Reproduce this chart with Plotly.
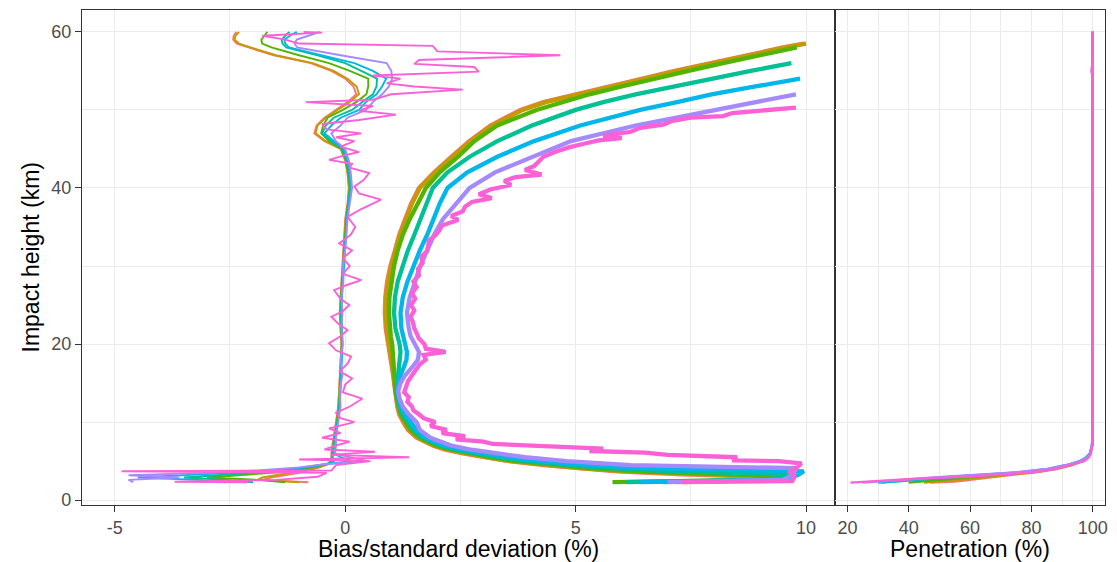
import plotly.graph_objects as go

# ---------------- data ----------------
SERIES = ["Group 1", "Group 2", "Group 3", "Group 4", "Group 5", "Group 6", "Group 7"]
COLORS = ["#F8766D", "#C49A00", "#53B400", "#00C094", "#00B6EB", "#A58AFF", "#FB61D7"]

# Bias (%) on a common height grid (km) for groups 1-6
H_BIAS = [2.3, 2.6, 2.9, 3.2, 3.5, 3.8, 4.2, 4.6, 5.0, 5.5, 6.0, 7, 8, 9, 10, 12, 14, 16, 18, 20,
          22, 24, 26, 28, 30, 32, 34, 36, 38, 40, 42, 43.5, 45, 46, 47, 48, 49, 50, 51, 52,
          53, 54, 55, 56, 57, 58, 58.5, 59, 59.5, 60]
BIAS_1 = [-0.8, -1.8, -1.6, -1.3, -1.0, -0.8, -0.55, -0.38, -0.32, -0.3, -0.3, -0.28, -0.25, -0.22, -0.2,
          -0.15, -0.13, -0.12, -0.1, -0.08, -0.1, -0.12, -0.1, -0.08, -0.06, -0.04, -0.02, 0.0, 0.05, 0.08,
          0.05, 0.0, -0.1, -0.45, -0.67, -0.62, -0.45, -0.2, 0.05, 0.24, 0.18, 0.0, -0.3, -0.75, -1.55,
          -2.1, -2.35, -2.43, -2.42, -2.36]
BIAS_2 = [-1.0, -1.9, -1.8, -1.5, -1.15, -0.9, -0.6, -0.38, -0.31, -0.29, -0.29, -0.27, -0.24, -0.21, -0.19,
          -0.15, -0.13, -0.11, -0.1, -0.08, -0.1, -0.11, -0.1, -0.08, -0.06, -0.04, -0.02, 0.01, 0.06, 0.08,
          0.05, 0.01, -0.09, -0.42, -0.64, -0.6, -0.42, -0.15, 0.1, 0.3, 0.25, 0.05, -0.25, -0.7, -1.5,
          -2.05, -2.3, -2.4, -2.38, -2.3]
BIAS_3 = [-1.3, -1.9, -3.0, -2.2, -1.6, -1.1, -0.7, -0.4, -0.3, -0.28, -0.28, -0.26, -0.24, -0.2, -0.18,
          -0.14, -0.12, -0.1, -0.09, -0.07, -0.09, -0.1, -0.09, -0.07, -0.05, -0.03, -0.01, 0.02, 0.06, 0.1,
          0.06, 0.02, -0.08, -0.35, -0.52, -0.48, -0.38, -0.05, 0.24, 0.46, 0.5, 0.5, 0.1, -0.35, -1.0,
          -1.6, -1.8, -1.82, -1.75, -1.69]
BIAS_4 = [-2.0, -2.6, -3.5, -2.7, -2.0, -1.3, -0.8, -0.42, -0.25, -0.27, -0.27, -0.25, -0.22, -0.2, -0.17,
          -0.13, -0.11, -0.1, -0.08, -0.07, -0.08, -0.09, -0.08, -0.06, -0.04, -0.02, 0.0, 0.03, 0.07, 0.11,
          0.08, 0.03, -0.06, -0.3, -0.5, -0.42, -0.25, 0.15, 0.37, 0.6, 0.68, 0.69, 0.35, 0.0, -0.6,
          -1.28, -1.36, -1.38, -1.3, -1.21]
BIAS_5 = [-2.6, -3.2, -4.5, -3.4, -2.5, -1.6, -0.9, -0.45, 0.15, -0.1, -0.25, -0.24, -0.22, -0.2, -0.16,
          -0.12, -0.1, -0.09, -0.08, -0.06, -0.07, -0.08, -0.07, -0.05, -0.03, -0.01, 0.01, 0.04, 0.08, 0.12,
          0.1, 0.05, -0.04, -0.25, -0.45, -0.3, -0.1, 0.3, 0.45, 0.68, 0.8, 0.89, 0.6, 0.2, -0.5,
          -1.22, -1.3, -1.32, -1.2, -1.05]
BIAS_6 = [-4.6, -4.7, -3.6, -4.7, -3.0, -1.9, -1.0, -0.45, 0.5, 0.1, -0.22, -0.2, -0.2, -0.18, -0.15,
          -0.1, -0.12, -0.06, -0.1, -0.05, -0.08, -0.06, -0.08, -0.04, -0.05, 0.0, 0.02, 0.05, 0.1, 0.15,
          0.12, 0.08, 0.0, -0.2, -0.3, -0.1, 0.05, 0.45, 0.6, 0.8, 0.95, 1.02, 1.0, 0.9, -0.1,
          -1.04, -1.1, -1.05, -0.8, -0.55]
# Group 7 bias has its own (noisier) height sampling
H_BIAS_7 = [2.3, 2.35, 2.6, 3.0, 3.5, 3.7, 3.8, 4.5, 5.0, 5.2, 5.5, 5.8, 6.2, 6.5, 7.0, 7.5, 8.0, 8.6, 9.2, 10.0,
            10.5, 11.2, 12.0, 13.0, 13.8, 14.8, 15.6, 16.5, 17.5, 18.4, 19.2, 20.1, 21.0, 21.8, 22.6, 23.5,
            24.2, 25.0, 25.8, 26.9, 27.6, 28.2, 29.0, 30.0, 31.0, 32.0, 32.9, 34.0, 35.0, 36.3, 37.3, 38.5,
            39.3, 40.2, 41.0, 41.9, 42.6, 43.1, 43.6, 44.2, 44.6, 45.3, 46.0, 46.5, 47.0, 47.5, 48.2, 48.7,
            49.4, 49.9, 50.5, 51.0, 51.3, 52.0, 52.6, 53.0, 53.4, 54.0, 54.4, 54.9, 55.5, 55.9, 56.4, 57.0,
            57.5, 58.2, 58.5, 59.0, 59.5, 59.9, 60.0]
BIAS_7 = [-2.1, -3.7, -1.5, -0.6, -0.4, -4.85, -0.3, -0.2, 0.55, -1.0, 1.39, -0.3, 0.65, -0.45, -0.2, 0.1,
          -0.5, -0.1, -0.35, 0.2, -0.1, -0.2, 0.1, 0.37, -0.05, 0.0, 0.15, -0.12, 0.05, 0.13, -0.2, -0.35,
          -0.1, 0.05, -0.15, -0.3, -0.05, 0.09, -0.1, -0.24, 0.05, 0.35, -0.05, 0.1, -0.05, 0.15, -0.13,
          0.12, 0.22, 0.05, 0.35, 0.78, 0.3, 0.2, 0.4, 0.52, 0.1, 0.15, -0.35, 0.0, 0.3, -0.1, 0.2, -0.2,
          0.35, -0.4, -0.5, 0.3, 1.1, 0.3, 0.6, -0.85, 0.6, 1.0, 2.55, 1.5, 0.9, 1.2, 0.6, 2.9, 2.8, 1.5,
          1.6, 4.67, 2.0, 1.9, -1.0, -1.3, -1.8, -0.5, -0.9]

# Standard deviation (%) on a common height grid for groups 1-6
H_STD = [2.3, 2.45, 2.6, 2.9, 3.1, 3.3, 3.7, 4.1, 4.5, 5.0, 5.5, 6.0, 6.5, 7.0, 8.0, 9.0,
         10, 11, 12, 13, 14, 15, 16, 17, 18, 19, 20, 21, 22,
         24, 26, 28, 30, 32, 34, 36, 38, 40, 42, 44, 46, 48, 50,
         51, 52, 53, 54, 55, 56, 57, 58, 58.5]
STD_1 = [7.2, 8.3, 9.2, 9.6, 8.2, 7.3, 5.9, 5.0, 4.3, 3.55, 3.0, 2.55, 2.15, 1.9, 1.55, 1.36,
         1.26, 1.17, 1.13, 1.10, 1.07, 1.06, 1.04, 1.01, 0.98, 0.96, 0.93, 0.90, 0.88,
         0.86, 0.87, 0.91, 0.98, 1.08, 1.17, 1.3, 1.43, 1.6, 1.93, 2.3, 2.69, 3.15, 3.8,
         4.3, 5.05, 5.75, 6.45, 7.15, 7.9, 8.7, 9.5, 9.95]
STD_2 = [6.9, 8.0, 9.0, 9.7, 8.9, 7.6, 6.1, 5.1, 4.4, 3.6, 3.05, 2.6, 2.2, 1.93, 1.58, 1.38,
         1.28, 1.19, 1.14, 1.11, 1.08, 1.07, 1.05, 1.02, 1.0, 0.97, 0.94, 0.92, 0.9,
         0.88, 0.89, 0.93, 1.0, 1.1, 1.19, 1.32, 1.45, 1.62, 1.95, 2.33, 2.72, 3.18, 3.85,
         4.35, 5.1, 5.8, 6.5, 7.2, 7.95, 8.75, 9.55, 10.0]
STD_3 = [5.8, 7.5, 8.8, 9.5, 9.75, 8.3, 6.4, 5.3, 4.6, 3.75, 3.15, 2.7, 2.28, 1.98, 1.62, 1.42,
         1.31, 1.21, 1.16, 1.12, 1.09, 1.08, 1.07, 1.06, 1.05, 1.04, 1.02, 0.99, 0.97,
         0.95, 0.96, 1.0, 1.06, 1.14, 1.25, 1.4, 1.57, 1.75, 2.05, 2.45, 2.8, 3.3, 4.15,
         4.7, 5.3, 6.0, 6.7, 7.45, 8.2, 9.0, 9.8, None]
STD_4 = [6.1, 7.8, 9.0, 9.5, 9.6, 9.7, 7.1, 5.7, 4.85, 3.95, 3.3, 2.85, 2.38, 2.06, 1.68, 1.48,
         1.36, 1.25, 1.18, 1.14, 1.12, 1.13, 1.15, 1.17, 1.19, 1.2, 1.18, 1.13, 1.09,
         1.06, 1.08, 1.14, 1.24, 1.36, 1.5, 1.63, 1.75, 1.9, 2.22, 2.7, 3.3, 4.05, 5.0,
         5.6, 6.3, 7.1, 7.95, 8.8, 9.68, None, None, None]
STD_5 = [6.4, 8.2, 9.4, 9.7, 9.8, 9.85, 9.95, 6.5, 5.3, 4.25, 3.55, 3.0, 2.5, 2.15, 1.75, 1.55,
         1.42, 1.3, 1.2, 1.16, 1.14, 1.16, 1.2, 1.27, 1.33, 1.34, 1.3, 1.25, 1.22,
         1.2, 1.25, 1.35, 1.48, 1.62, 1.78, 1.92, 2.05, 2.22, 2.65, 3.3, 4.1, 5.1, 6.4,
         7.2, 7.95, 8.9, 9.87, None, None, None, None, None]
STD_6 = [7.0, 8.8, 9.5, 9.6, 9.65, 9.7, 9.75, 9.8, 6.2, 4.8, 3.9, 3.25, 2.7, 2.3, 1.85, 1.62,
         1.55, 1.38, 1.25, 1.18, 1.15, 1.2, 1.3, 1.45, 1.58, 1.6, 1.5, 1.42, 1.38,
         1.34, 1.4, 1.52, 1.63, 1.78, 1.93, 2.12, 2.4, 2.7, 3.25, 4.05, 4.9, 6.3, 8.0,
         8.9, 9.78, None, None, None, None, None, None, None]
H_STD_7 = [2.3, 2.45, 3.0, 3.6, 4.2, 4.7, 5.0, 5.1, 5.5, 5.8, 6.1, 6.3, 6.6, 6.9, 7.2, 7.5, 7.8, 8.2, 8.6,
           9.0, 9.5, 10.0, 10.5, 11.0, 11.5, 12.0, 12.6, 13.2, 13.8, 14.5, 15.2, 16.0, 16.7, 17.4, 18.0,
           18.6, 19.0, 19.4, 20.0, 20.7, 21.4, 22.0, 22.8, 23.5, 24.3, 25.0, 25.8, 26.5, 27.3, 28.0, 28.8,
           29.6, 30.4, 31.2, 31.9, 32.6, 33.3, 33.9, 34.6, 35.2, 35.9, 36.4, 37.0, 37.6, 38.2, 38.7, 39.2,
           39.8, 40.4, 40.9, 41.4, 41.7, 42.3, 42.8, 43.4, 44.0, 44.6, 45.2, 45.7, 46.1, 46.4, 46.7, 47.2,
           47.7, 48.1, 48.6, 49.0, 49.2, 49.6, 50.0, 50.3]
STD_7 = [7.3, 9.7, 9.75, 9.65, 9.8, 9.9, 9.4, 8.4, 8.5, 7.0, 6.5, 5.3, 5.6, 4.2, 3.2, 3.0, 2.4, 2.6, 2.1,
         2.2, 1.85, 1.95, 1.7, 1.6, 1.48, 1.45, 1.35, 1.38, 1.28, 1.32, 1.36, 1.45, 1.55, 1.62, 1.75, 1.7,
         2.18, 1.75, 1.72, 1.6, 1.55, 1.5, 1.47, 1.42, 1.5, 1.43, 1.52, 1.45, 1.55, 1.48, 1.6, 1.58, 1.68,
         1.65, 1.78, 1.8, 1.82, 1.95, 2.05, 2.1, 2.45, 2.3, 2.55, 2.6, 2.75, 3.18, 2.9, 3.15, 3.6, 3.45,
         3.7, 4.26, 3.9, 4.1, 4.2, 4.3, 4.55, 4.85, 5.2, 5.5, 6.0, 5.6, 6.2, 6.4, 6.9, 7.1, 7.5, 8.2,
         8.4, 9.2, 9.78]

# Penetration (%) on a common height grid
H_PEN = [2.25, 2.4, 2.6, 2.8, 3.0, 3.3, 3.6, 4.0, 4.5, 5.0, 5.5, 6.0, 7.0, 8.0, 10, 20, 30, 40, 50,
         54, 55, 56, 58, 60]
PEN_1 = [47, 55, 60, 64, 68, 75, 82, 88.5, 93.2, 96.6, 98.2, 99.2, 99.8, 100, 100, 100, 100, 100, 100,
         100, 99.8, 100, 100, 100]
PEN_2 = [45, 50, 56, 61, 66, 74, 81, 88, 93, 96.5, 98.2, 99.2, 99.8, 100, 100, 100, 100, 100, 100,
         100, 99.8, 100, 100, 100]
PEN_3 = [40, 45, 50, 56, 62, 71, 79.5, 87, 92.5, 96.2, 98.1, 99.2, 99.8, 100, 100, 100, 100, 100, 100,
         100, 99.8, 100, 100, 100]
PEN_4 = [31, 36, 42, 50, 57, 68, 78, 86, 92, 96, 98, 99.1, 99.8, 100, 100, 100, 100, 100, 100,
         100, 99.8, 100, 100, 100]
PEN_5 = [30, 34, 40, 47, 54, 66, 77, 85.5, 91.5, 95.8, 98, 99.1, 99.8, 100, 100, 100, 100, 100, 100,
         100, 99.7, 100, 100, 100]
PEN_6 = [25, 30, 36, 43, 52, 64, 76, 85, 91.5, 96, 98.3, 99.2, 99.7, 100, 100, 100, 100, 100, 100,
         100, 99.8, 100, 100, 100]
PEN_7 = [21, 28, 35, 45, 58.5, 71, 81, 88, 92.6, 97.2, 98.8, 99.4, 99.8, 100, 100, 100, 100, 100, 100,
         100, 99.6, 99.9, 100, 100]

# tick labels
X1_TICKS = [-5, 0, 5, 10]
X2_TICKS = [20, 40, 60, 80, 100]
Y_TICKS = [0, 20, 40, 60]

BIAS = [(H_BIAS, BIAS_1), (H_BIAS, BIAS_2), (H_BIAS, BIAS_3), (H_BIAS, BIAS_4),
        (H_BIAS, BIAS_5), (H_BIAS, BIAS_6), (H_BIAS_7, BIAS_7)]
STD = [(H_STD, STD_1), (H_STD, STD_2), (H_STD, STD_3), (H_STD, STD_4),
       (H_STD, STD_5), (H_STD, STD_6), (H_STD_7, STD_7)]
PEN = [PEN_1, PEN_2, PEN_3, PEN_4, PEN_5, PEN_6, PEN_7]

# ---------------- figure ----------------
fig = go.Figure()
for name, col, (h, v) in zip(SERIES, COLORS, BIAS):
    fig.add_trace(go.Scatter(x=v, y=h, mode="lines", name=name, showlegend=False,
                             line=dict(color=col, width=1.9), xaxis="x", yaxis="y"))
for name, col, (h, v) in zip(SERIES, COLORS, STD):
    fig.add_trace(go.Scatter(x=v, y=h, mode="lines", name=name, showlegend=False,
                             line=dict(color=col, width=4.3), xaxis="x", yaxis="y"))
for name, col, v in zip(SERIES, COLORS, PEN):
    fig.add_trace(go.Scatter(x=v, y=H_PEN, mode="lines", name=name, showlegend=False,
                             line=dict(color=col, width=2.4), xaxis="x2", yaxis="y2"))

FONT = "Liberation Sans, Arial, Helvetica, sans-serif"
GRID = "#EBEBEB"
BORDER = "#333333"
TICKFONT = dict(family=FONT, size=18, color="#4D4D4D")
SPLIT = 0.7362

common = dict(showgrid=True, gridcolor=GRID, gridwidth=1.2, zeroline=False,
              showline=True, linecolor=BORDER, linewidth=1.1, mirror=True,
              ticks="outside", ticklen=6, tickcolor=BORDER, tickwidth=1.1, tickfont=TICKFONT)

fig.update_layout(
    width=1117, height=562,
    margin=dict(l=82, r=9, t=9, b=57),
    paper_bgcolor="white", plot_bgcolor="white",
    font=dict(family=FONT),
    xaxis=dict(domain=[0, SPLIT], range=[-5.71, 10.63], tickmode="array",
               tickvals=X1_TICKS, ticktext=[str(t) for t in X1_TICKS], anchor="y",
               minor=dict(tickvals=[-2.5, 2.5, 7.5], showgrid=True, gridcolor=GRID, gridwidth=0.7, ticks=""),
               **common),
    yaxis=dict(domain=[0, 1], range=[-0.62, 62.8], tickmode="array", tickvals=Y_TICKS,
               ticktext=[str(t) for t in Y_TICKS], anchor="x",
               minor=dict(tickvals=[10, 30, 50], showgrid=True, gridcolor=GRID, gridwidth=0.7, ticks=""),
               **common),
    xaxis2=dict(domain=[SPLIT, 1], range=[16, 104], tickmode="array",
                tickvals=X2_TICKS, ticktext=[str(t) for t in X2_TICKS], anchor="y2",
                minor=dict(tickvals=[30, 50, 70, 90], showgrid=True, gridcolor=GRID, gridwidth=0.7, ticks=""),
                **common),
    yaxis2=dict(domain=[0, 1], matches="y", anchor="x2", showticklabels=False,
                tickmode="array", tickvals=Y_TICKS,
                minor=dict(tickvals=[10, 30, 50], showgrid=True, gridcolor=GRID, gridwidth=0.7, ticks=""),
                showgrid=True, gridcolor=GRID, gridwidth=1.2, zeroline=False,
                showline=True, linecolor=BORDER, linewidth=1.1, mirror=True, ticks=""),
    annotations=[
        dict(text="Bias/standard deviation (%)", x=SPLIT / 2, y=0, xref="paper", yref="paper",
             xanchor="center", yanchor="middle", yshift=-44, showarrow=False,
             font=dict(family=FONT, size=23, color="black")),
        dict(text="Penetration (%)", x=(SPLIT + 1) / 2, y=0, xref="paper", yref="paper",
             xanchor="center", yanchor="middle", yshift=-44, showarrow=False,
             font=dict(family=FONT, size=23, color="black")),
        dict(text="Impact height (km)", x=0, y=0.5, xref="paper", yref="paper",
             xanchor="center", yanchor="middle", xshift=-52, textangle=-90, showarrow=False,
             font=dict(family=FONT, size=23, color="black")),
    ],
)

fig.write_html("out.html")
